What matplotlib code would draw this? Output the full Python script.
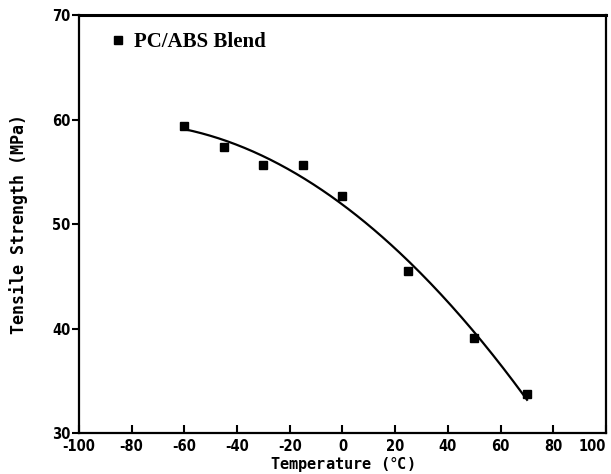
import numpy as np
import matplotlib
matplotlib.use("Agg")
import matplotlib.pyplot as plt

# data
temperature = [-60, -45, -30, -15, 0, 25, 50, 70]
strength = [59.4, 57.4, 55.7, 55.7, 52.7, 45.5, 39.1, 33.7]

x_ticks = [-100, -80, -60, -40, -20, 0, 20, 40, 60, 80, 100]
y_ticks = [30, 40, 50, 60, 70]

# quadratic trend line through the measured points
coef = np.polyfit(temperature, strength, 2)
x_fit = np.linspace(min(temperature), max(temperature), 200)
y_fit = np.polyval(coef, x_fit)

fig = plt.figure(figsize=(6.11, 4.74), dpi=100)
ax = fig.add_axes([0.129, 0.0865, 0.863, 0.8815])

ax.plot(x_fit, y_fit, color="black", linewidth=1.6)
ax.plot(temperature, strength, linestyle="none", marker="s", markersize=6,
        color="black", label="PC/ABS Blend")

ax.set_xlim(-100, 100)
ax.set_ylim(30, 70)
ax.set_xticks(x_ticks)
ax.set_yticks(y_ticks)
xlabels = ax.set_xticklabels([str(t) for t in x_ticks], family="DejaVu Sans",
                             fontweight="bold", fontstretch="condensed", fontsize=10.5)
ax.set_yticklabels([str(t) for t in y_ticks], family="DejaVu Sans",
                   fontweight="bold", fontstretch="condensed", fontsize=10.5)
# last label sits at the figure edge, keep it inside
xlabels[-1].set_horizontalalignment("right")
xlabels[-1].set_x(x_ticks[-1])
ax.tick_params(axis="x", direction="in", length=6, width=1.5, pad=4)
ax.tick_params(axis="y", direction="out", length=5, width=1.5, pad=1)

for side in ["left", "right", "bottom"]:
    ax.spines[side].set_linewidth(1.6)
ax.spines["top"].set_linewidth(2.2)

ax.set_ylabel("Tensile Strength (MPa)", family="DejaVu Sans Mono",
              fontweight="bold", fontsize=12, labelpad=17)
ax.set_xlabel("Temperature ($\\degree$C)", family="DejaVu Sans Mono",
              fontweight="bold", fontsize=11, labelpad=0.5)

leg = ax.legend(loc="upper left", bbox_to_anchor=(0.03, 1.0), frameon=False,
                handlelength=0.6, handletextpad=0.5, borderaxespad=0.4,
                prop={"family": "Liberation Serif", "weight": "bold", "size": 15})

fig.savefig("out.png", dpi=100)
